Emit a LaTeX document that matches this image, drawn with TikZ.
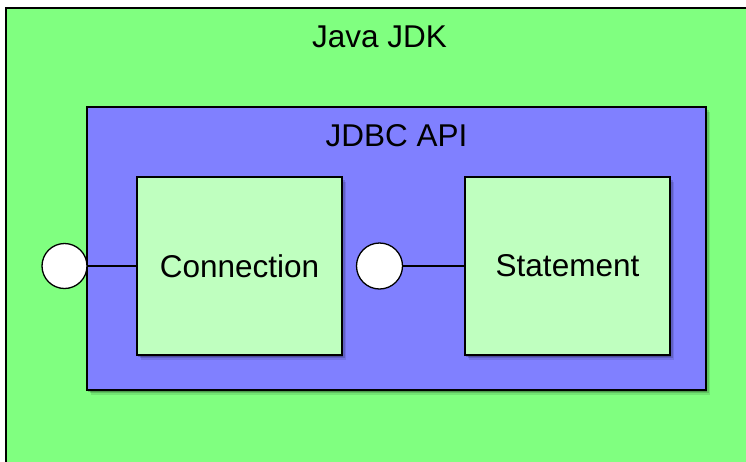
\documentclass[tikz,border=0pt]{standalone}
\usepackage{fontspec}
\setmainfont{Liberation Sans}
\usetikzlibrary{shadows}
\definecolor{jdkgreen}{RGB}{128,255,128}
\definecolor{apiblue}{RGB}{128,128,255}
\definecolor{boxgreen}{RGB}{191,255,191}
\tikzset{
  framebox/.style={draw=black, line width=1.3pt, rectangle, inner sep=0pt,
    font=\fontsize{31.5}{38}\selectfont},
  shadowed/.style={
    drop shadow={shadow xshift=1pt, shadow yshift=-1.5pt, opacity=0.2, fill=black},
    drop shadow={shadow xshift=2.5pt, shadow yshift=-3pt, opacity=0.15, fill=black},
    drop shadow={shadow xshift=4pt, shadow yshift=-5pt, opacity=0.1, fill=black}},
  port/.style={circle, draw=black, line width=1.3pt, fill=white, inner sep=0pt},
  wire/.style={draw=black, line width=1.1pt},
  title/.style={anchor=base, inner sep=0pt, font=\fontsize{31.5}{38}\selectfont}
}
\begin{document}
\begin{tikzpicture}[x=1pt,y=-1pt]
\useasboundingbox (0,0) rectangle (746,461);
\clip (0,0) rectangle (746,461);
\fill[white] (0,0) rectangle (746,461);
\node[framebox, shadowed, fill=jdkgreen, minimum width=747pt, minimum height=455pt] (jdk) at (379.5,235.5) {};
\node[title] (jdklabel) at (379.5,47) {Java JDK};
\node[framebox, shadowed, fill=apiblue, minimum width=619pt, minimum height=283pt] (api) at (396.5,248.5) {};
\node[title] (apilabel) at (396.5,146) {JDBC API};
\node[framebox, shadowed, fill=boxgreen, minimum width=205pt, minimum height=178pt] (conn) at (239.5,266) {Connection};
\node[framebox, shadowed, fill=boxgreen, minimum width=205pt, minimum height=178pt] (stmt) at (567.5,266) {Statement};
\node[port, minimum size=45pt] (c1) at (64.5,266) {};
\node[port, minimum size=46pt] (c2) at (379.5,266) {};
\draw[wire] (c1.east) -- (conn.west);
\draw[wire] (c2.east) -- (stmt.west);
\end{tikzpicture}
\end{document}
